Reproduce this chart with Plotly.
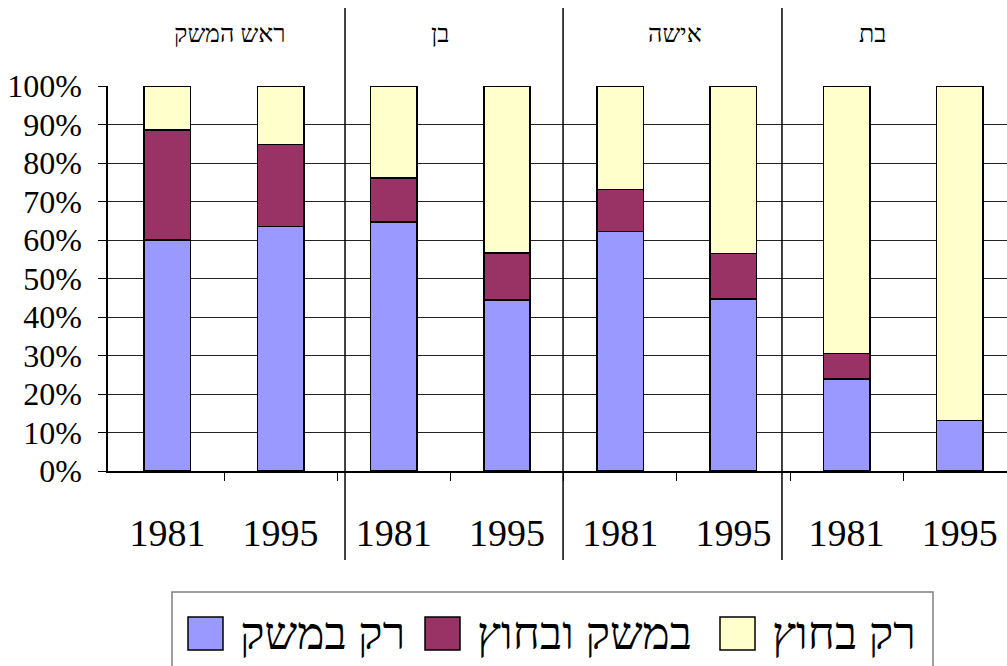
import plotly.graph_objects as go

groups = ["ראש המשק", "בן", "אישה", "בת"]
years = ["1981", "1995", "1981", "1995", "1981", "1995", "1981", "1995"]
series_names = ["רק במשק", "במשק ובחוץ", "רק בחוץ"]
only_farm = [60.0, 63.6, 64.7, 44.4, 62.2, 44.7, 23.9, 13.1]
farm_and_out = [28.6, 21.3, 11.4, 12.2, 11.0, 11.8, 6.6, 0.0]
only_out = [11.4, 15.1, 23.9, 43.4, 26.8, 43.5, 69.5, 86.9]
colors = ["#9999FF", "#993366", "#FFFFCC"]

FONT = "Liberation Serif, Times New Roman, serif"
x = list(range(len(years)))

fig = go.Figure()
for name, vals, col in zip(series_names, [only_farm, farm_and_out, only_out], colors):
    fig.add_trace(go.Bar(
        x=x, y=[v / 100 for v in vals], name=name, width=0.41,
        marker=dict(color=col, line=dict(color="black", width=1.5)),
        showlegend=False,
    ))

fig.update_layout(
    barmode="stack",
    width=1007, height=666,
    margin=dict(l=108, r=0, t=86, b=195),
    paper_bgcolor="white", plot_bgcolor="white",
    font=dict(family=FONT, color="black"),
)
fig.update_xaxes(
    range=[-0.525, 7.417],
    tickvals=x, ticktext=years, ticks="",
    tickfont=dict(size=38, family=FONT),
    ticklabelstandoff=28,
    showline=True, linecolor="black", linewidth=1.5,
    showgrid=False, zeroline=False,
    minor=dict(tickvals=[i + 0.5 for i in range(len(years) - 1)], ticks="outside",
               ticklen=8, tickcolor="black", tickwidth=1, showgrid=False),
)
fig.update_yaxes(
    range=[0, 1.0005], tickvals=[i / 10 for i in range(11)],
    ticktext=[f"{i*10}%" for i in range(11)],
    tickfont=dict(size=32, family=FONT),
    ticks="outside", ticklen=8, tickcolor="black",
    ticklabelstandoff=10,
    showline=True, linecolor="black", linewidth=1.5,
    showgrid=True, gridcolor="#222222", gridwidth=1, zeroline=False,
)

# group separators and headers
for sx in [1.569, 3.495, 5.429]:
    fig.add_shape(type="line", xref="x", yref="paper", x0=sx, x1=sx, y0=-0.231, y1=1.2026,
                  line=dict(color="black", width=1.5))
for gx, g in zip([0.553, 2.408, 4.484, 6.233], groups):
    fig.add_annotation(x=gx, y=1.137, xref="x", yref="paper", text=g, showarrow=False,
                       font=dict(size=25, family=FONT), xanchor="center", yanchor="middle")

# legend box
PW = 899
fig.add_shape(type="rect", xref="paper", yref="paper", x0=(172 - 108) / PW, x1=(933 - 108) / PW,
              y0=-0.56, y1=-0.314, line=dict(color="#808080", width=1.5), fillcolor="white")
sw_left = [188, 425, 720]
tx_left = [238, 475, 770]
for name, col, sl, tl in zip(series_names, colors, sw_left, tx_left):
    fig.add_shape(type="rect", xref="paper", yref="paper",
                  x0=(sl - 108) / PW, x1=(sl + 35 - 108) / PW, y0=-0.465, y1=-0.379,
                  line=dict(color="black", width=1.5), fillcolor=col)
    fig.add_annotation(x=(tl - 108) / PW, y=-0.421, xref="paper", yref="paper", text=name,
                       showarrow=False, font=dict(size=46, family=FONT),
                       xanchor="left", yanchor="middle")

fig.write_html("out.html", config={"displayModeBar": False},
               post_script="document.body.style.margin='0';document.body.style.overflow='hidden';")
